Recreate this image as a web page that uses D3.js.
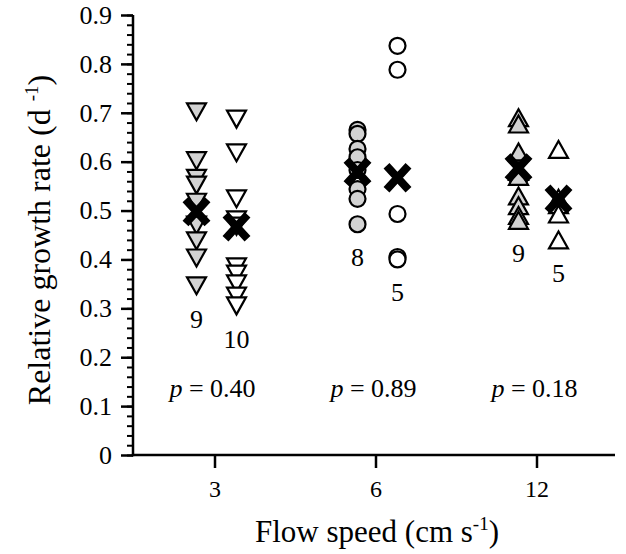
<!DOCTYPE html>
<html><head><meta charset="utf-8">
<script src="https://cdn.jsdelivr.net/npm/d3@7/dist/d3.min.js"></script>
<style>
html,body{margin:0;padding:0;background:#fff;}
svg text{font-family:"Liberation Serif","DejaVu Serif",serif !important;fill:#000;}
</style></head>
<body><svg id="chart" width="626" height="554"></svg>
<script>
// ---- data ----
const speeds = ["3", "6", "12"];
const shapes = ["down", "circle", "up"];
const greyValues = [
  [0.702, 0.602, 0.566, 0.552, 0.517, 0.470, 0.438, 0.403, 0.346],
  [0.665, 0.657, 0.626, 0.609, 0.583, 0.544, 0.524, 0.472],
  [0.690, 0.677, 0.620, 0.580, 0.570, 0.530, 0.510, 0.490, 0.480]
];
const openValues = [
  [0.687, 0.618, 0.524, 0.481, 0.468, 0.385, 0.370, 0.350, 0.325, 0.305],
  [0.837, 0.788, 0.493, 0.405, 0.400],
  [0.625, 0.525, 0.512, 0.493, 0.440]
];
const greyMeans = [0.498, 0.579, 0.587];
const openMeans = [0.467, 0.567, 0.523];
const greyN = [9, 8, 9];
const openN = [10, 5, 5];
const pValues = ["0.40", "0.89", "0.18"];
const yTicks = [0, 0.1, 0.2, 0.3, 0.4, 0.5, 0.6, 0.7, 0.8, 0.9];

// ---- scales ----
const svg = d3.select("#chart");
const x = d3.scalePoint().domain(speeds).range([134, 617]).padding(0.5);
const sub = d3.scalePoint().domain(["grey", "open"]).range([-18, 22]);
const y = d3.scaleLinear().domain([0, 0.9]).range([455, 15]);

// ---- axes ----
const yAxis = svg.append("g").attr("transform", "translate(133,0)");
yAxis.call(d3.axisLeft(y).tickValues(d3.range(0, 0.9001, 0.02)).tickSize(6).tickFormat(""))
  .call(g => g.selectAll("line").attr("stroke", "#000").attr("stroke-width", 2))
  .call(g => g.select(".domain").remove());
yAxis.append("g").call(d3.axisLeft(y).tickValues(yTicks).tickSize(12).tickPadding(9)
    .tickFormat(d => d === 0 ? "0" : d3.format(".1f")(d)))
  .call(g => g.select(".domain").remove())
  .call(g => g.selectAll("line").attr("stroke", "#000").attr("stroke-width", 2.5))
  .call(g => g.selectAll("text").attr("font-size", 26).attr("fill", "#000"));
yAxis.append("line").attr("x1", 0).attr("x2", 0).attr("y1", y(0.9)).attr("y2", y(0) + 1.2)
  .attr("stroke", "#000").attr("stroke-width", 2.5);

const xAxis = svg.append("g").attr("transform", "translate(0,455)");
xAxis.call(d3.axisBottom(x).tickSize(13).tickSizeOuter(0).tickPadding(12))
  .call(g => g.select(".domain").remove())
  .call(g => g.selectAll("line").attr("stroke", "#000").attr("stroke-width", 2.5))
  .call(g => g.selectAll("text").attr("font-size", 24).attr("fill", "#000"));
xAxis.append("line").attr("x1", 131.8).attr("x2", 615).attr("y1", 0).attr("y2", 0)
  .attr("stroke", "#000").attr("stroke-width", 2.5);

// ---- axis titles ----
svg.append("text").attr("x", 377).attr("y", 542).attr("text-anchor", "middle").attr("font-size", 31)
  .call(t => { t.append("tspan").text("Flow speed (cm s");
               t.append("tspan").attr("font-size", 19).attr("dy", -12).text("-1");
               t.append("tspan").attr("dy", 12).text(")"); });
svg.append("text").attr("transform", "translate(50,240) rotate(-90)").attr("text-anchor", "middle").attr("font-size", 32)
  .call(t => { t.append("tspan").text("Relative growth rate (d ");
               t.append("tspan").attr("font-size", 19).attr("dy", -12).text("-1");
               t.append("tspan").attr("dy", 12).text(")"); });

// ---- markers ----
function markerPath(shape) {
  const w = 19, h = 17;
  if (shape === "down") return `M${-w/2},${-h/2}L${w/2},${-h/2}L0,${h/2}Z`;
  if (shape === "up") return `M${-w/2},${h/2}L${w/2},${h/2}L0,${-h/2}Z`;
  return d3.arc()({innerRadius: 0, outerRadius: 8, startAngle: 0, endAngle: 2 * Math.PI});
}
const series = [
  {key: "grey", values: greyValues, means: greyMeans, n: greyN, fill: "#d3d3d3"},
  {key: "open", values: openValues, means: openMeans, n: openN, fill: "#ffffff"}
];
const pts = [];
series.forEach(s => speeds.forEach((sp, i) => s.values[i].forEach(v => pts.push({s, sp, i, v}))));
svg.append("g").selectAll("path").data(pts).join("path")
  .attr("d", d => markerPath(shapes[d.i]))
  .attr("transform", d => `translate(${x(d.sp) + sub(d.s.key)},${y(d.v)})`)
  .attr("fill", d => d.s.fill).attr("stroke", "#000").attr("stroke-width", 2.2);

// means as bold crosses
const means = [];
series.forEach(s => speeds.forEach((sp, i) => means.push({s, sp, i, v: s.means[i]})));
const cross = svg.append("g").selectAll("g").data(means).join("g")
  .attr("transform", d => `translate(${x(d.sp) + sub(d.s.key)},${y(d.v)})`);
cross.append("path").attr("d", "M-11,-12L11,12M11,-12L-11,12")
  .attr("stroke", "#000").attr("stroke-width", 8).attr("fill", "none");

// sample sizes
const ns = [];
series.forEach(s => speeds.forEach((sp, i) => ns.push({s, sp, i, n: s.n[i], min: d3.min(s.values[i])})));
svg.append("g").selectAll("text").data(ns).join("text")
  .attr("x", d => x(d.sp) + sub(d.s.key)).attr("y", d => y(d.min) + 42)
  .attr("text-anchor", "middle").attr("font-size", 26).text(d => d.n);

// p values
const pt = svg.append("g").selectAll("text").data(speeds).join("text")
  .attr("x", (d) => x(d) - 2).attr("y", 397).attr("text-anchor", "middle").attr("font-size", 26);
pt.append("tspan").attr("font-style", "italic").text("p");
pt.append("tspan").text((d, i) => " = " + pValues[i]);
</script></body></html>
